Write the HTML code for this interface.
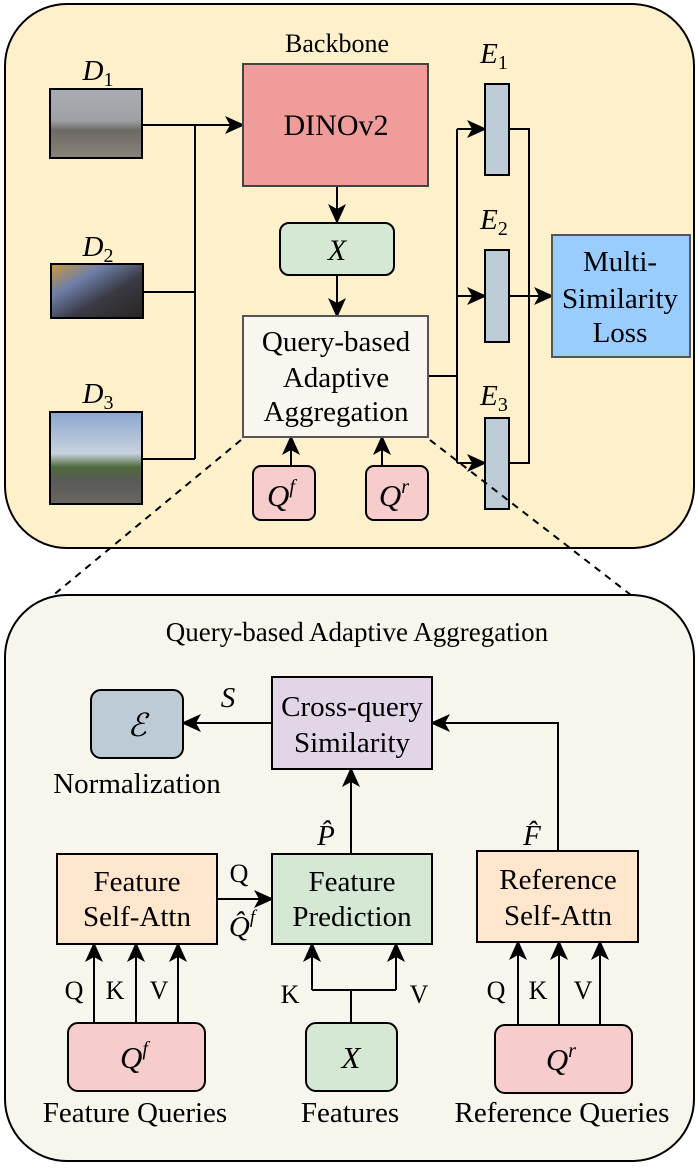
<!DOCTYPE html>
<html><head><meta charset="utf-8"><style>
html,body{margin:0;padding:0;background:#fff}
svg{display:block}
text{font-family:"Liberation Serif",serif;fill:#000}
.it{font-style:italic}
</style></head><body>
<svg width="698" height="1168" viewBox="0 0 698 1168" xmlns="http://www.w3.org/2000/svg">
<defs>
<marker id="a" markerWidth="20" markerHeight="18" refX="18" refY="9" orient="auto" markerUnits="userSpaceOnUse">
<path d="M0,0 L20,9 L0,18 L5,9 z" fill="#000"/></marker>
<linearGradient id="sky1" x1="0" y1="0" x2="0" y2="1"><stop offset="0" stop-color="#a9adb3"/><stop offset="0.45" stop-color="#9ea2a6"/><stop offset="0.6" stop-color="#6d6a66"/><stop offset="1" stop-color="#8a8378"/></linearGradient>
<linearGradient id="sky2" x1="0" y1="0" x2="1" y2="1"><stop offset="0" stop-color="#c99a3c"/><stop offset="0.3" stop-color="#6f7fa8"/><stop offset="0.6" stop-color="#3a3a44"/><stop offset="1" stop-color="#2a2520"/></linearGradient>
<linearGradient id="sky3" x1="0" y1="0" x2="0" y2="1"><stop offset="0" stop-color="#8aa7cf"/><stop offset="0.45" stop-color="#c8d2de"/><stop offset="0.6" stop-color="#4f6a3c"/><stop offset="0.75" stop-color="#5a5a5a"/><stop offset="1" stop-color="#6a6660"/></linearGradient>
</defs>

<rect x="5" y="4" width="689" height="544" rx="62" fill="#fdf0cb" stroke="#000" stroke-width="2"/>
<text x="337" y="52" font-size="26" text-anchor="middle">Backbone</text>

<text x="98" y="80" font-size="29" text-anchor="middle" class="it">D<tspan font-size="20" dy="6" font-style="normal">1</tspan></text>
<text x="98" y="256" font-size="29" text-anchor="middle" class="it">D<tspan font-size="20" dy="6" font-style="normal">2</tspan></text>
<text x="98" y="403" font-size="29" text-anchor="middle" class="it">D<tspan font-size="20" dy="6" font-style="normal">3</tspan></text>
<rect x="50" y="89" width="92" height="69" fill="url(#sky1)" stroke="#000" stroke-width="2"/>
<rect x="51" y="264" width="92" height="54" fill="url(#sky2)" stroke="#000" stroke-width="2"/>
<rect x="50" y="412" width="92" height="92" fill="url(#sky3)" stroke="#000" stroke-width="2"/>

<g stroke="#000" stroke-width="2" fill="none">
<line x1="142" y1="125" x2="243" y2="125" marker-end="url(#a)"/>
<line x1="143" y1="292" x2="195" y2="292"/>
<line x1="142" y1="459" x2="195" y2="459"/>
<line x1="195" y1="125" x2="195" y2="459"/>
<line x1="337" y1="186" x2="337" y2="222" marker-end="url(#a)"/>
<line x1="337" y1="275" x2="337" y2="316" marker-end="url(#a)"/>
<line x1="291" y1="466" x2="291" y2="437" marker-end="url(#a)"/>
<line x1="382" y1="466" x2="382" y2="437" marker-end="url(#a)"/>
<polyline points="428,376 457,376"/>
<line x1="457" y1="129" x2="457" y2="463"/>
<line x1="457" y1="129" x2="485" y2="129" marker-end="url(#a)"/>
<line x1="457" y1="296" x2="485" y2="296" marker-end="url(#a)"/>
<line x1="457" y1="463" x2="485" y2="463" marker-end="url(#a)"/>
<polyline points="509,129 529,129 529,463 509,463"/>
<line x1="509" y1="296" x2="552" y2="296" marker-end="url(#a)"/>
</g>

<rect x="243" y="64" width="185" height="122" fill="#f09c9a" stroke="#444" stroke-width="2"/>
<text x="336" y="135" font-size="30" text-anchor="middle">DINOv2</text>
<rect x="280" y="223" width="114" height="52" rx="9" fill="#d5e8d4" stroke="#000" stroke-width="2"/>
<text x="337" y="260" font-size="30" text-anchor="middle" class="it">X</text>
<rect x="243" y="316" width="185" height="121" fill="#f8f6ef" stroke="#555" stroke-width="2"/>
<text x="336" y="351" font-size="29" text-anchor="middle">Query-based</text>
<text x="336" y="387" font-size="29" text-anchor="middle">Adaptive</text>
<text x="336" y="421" font-size="29" text-anchor="middle">Aggregation</text>
<rect x="253" y="466" width="62" height="54" rx="8" fill="#f6cccc" stroke="#000" stroke-width="2"/>
<text x="281" y="506" font-size="31" text-anchor="middle" class="it">Q<tspan font-size="20" dy="-13">f</tspan></text>
<rect x="366" y="466" width="62" height="54" rx="8" fill="#f6cccc" stroke="#000" stroke-width="2"/>
<text x="394" y="506" font-size="31" text-anchor="middle" class="it">Q<tspan font-size="20" dy="-13">r</tspan></text>

<rect x="485" y="84" width="24" height="91" fill="#bccbd6" stroke="#000" stroke-width="2"/>
<rect x="485" y="250" width="24" height="92" fill="#bccbd6" stroke="#000" stroke-width="2"/>
<rect x="485" y="418" width="24" height="91" fill="#bccbd6" stroke="#000" stroke-width="2"/>
<text x="494" y="63" font-size="29" text-anchor="middle" class="it">E<tspan font-size="20" dy="6" font-style="normal">1</tspan></text>
<text x="494" y="229" font-size="29" text-anchor="middle" class="it">E<tspan font-size="20" dy="6" font-style="normal">2</tspan></text>
<text x="494" y="405" font-size="29" text-anchor="middle" class="it">E<tspan font-size="20" dy="6" font-style="normal">3</tspan></text>

<rect x="552" y="235" width="138" height="122" fill="#99ccff" stroke="#555" stroke-width="2"/>
<text x="620" y="271" font-size="29" text-anchor="middle">Multi-</text>
<text x="620" y="308" font-size="29" text-anchor="middle">Similarity</text>
<text x="620" y="342" font-size="29" text-anchor="middle">Loss</text>

<g stroke="#000" stroke-width="2" stroke-dasharray="7,6" fill="none">
<line x1="241" y1="440" x2="45" y2="602"/>
<line x1="430" y1="440" x2="640" y2="602"/>
</g>

<rect x="5" y="595" width="689" height="566" rx="62" fill="#f8f5ed" stroke="#000" stroke-width="2"/>
<text x="357" y="641" font-size="27" text-anchor="middle">Query-based Adaptive Aggregation</text>

<g stroke="#000" stroke-width="2" fill="none">
<line x1="272" y1="723" x2="183" y2="723" marker-end="url(#a)"/>
<polyline points="558,851 558,723 432,723" marker-end="url(#a)"/>
<line x1="351" y1="854" x2="351" y2="769" marker-end="url(#a)"/>
<line x1="217" y1="899" x2="272" y2="899" marker-end="url(#a)"/>
<line x1="94" y1="1023" x2="94" y2="944" marker-end="url(#a)"/>
<line x1="136" y1="1023" x2="136" y2="944" marker-end="url(#a)"/>
<line x1="178" y1="1023" x2="178" y2="944" marker-end="url(#a)"/>
<line x1="351" y1="1023" x2="351" y2="990"/>
<polyline points="312,990 396,990"/>
<line x1="312" y1="990" x2="312" y2="944" marker-end="url(#a)"/>
<line x1="396" y1="990" x2="396" y2="944" marker-end="url(#a)"/>
<line x1="518" y1="1025" x2="518" y2="942" marker-end="url(#a)"/>
<line x1="559" y1="1025" x2="559" y2="942" marker-end="url(#a)"/>
<line x1="600" y1="1025" x2="600" y2="942" marker-end="url(#a)"/>
</g>

<rect x="91" y="690" width="92" height="68" rx="10" fill="#bccbd6" stroke="#000" stroke-width="2"/>
<text x="137" y="736" font-size="32" text-anchor="middle" class="it">ℰ</text>
<text x="137" y="793" font-size="29" text-anchor="middle">Normalization</text>
<text x="228" y="707" font-size="29" text-anchor="middle" class="it">S</text>

<rect x="272" y="677" width="160" height="92" fill="#e1d5e7" stroke="#000" stroke-width="2"/>
<text x="352" y="716" font-size="29" text-anchor="middle">Cross-query</text>
<text x="352" y="752" font-size="29" text-anchor="middle">Similarity</text>

<text x="326" y="845" font-size="29" text-anchor="middle" class="it">P̂</text>
<text x="532" y="845" font-size="29" text-anchor="middle" class="it">F̂</text>

<rect x="57" y="854" width="160" height="90" fill="#ffe6cc" stroke="#000" stroke-width="2"/>
<text x="137" y="891" font-size="29" text-anchor="middle">Feature</text>
<text x="137" y="926" font-size="29" text-anchor="middle">Self-Attn</text>
<rect x="272" y="854" width="160" height="90" fill="#d5e8d4" stroke="#000" stroke-width="2"/>
<text x="352" y="891" font-size="29" text-anchor="middle">Feature</text>
<text x="352" y="926" font-size="29" text-anchor="middle">Prediction</text>
<rect x="477" y="851" width="161" height="91" fill="#ffe6cc" stroke="#000" stroke-width="2"/>
<text x="558" y="889" font-size="29" text-anchor="middle">Reference</text>
<text x="558" y="925" font-size="29" text-anchor="middle">Self-Attn</text>

<text x="239" y="882" font-size="26" text-anchor="middle">Q</text>
<text x="242" y="936" font-size="29" text-anchor="middle" class="it">Q̂<tspan font-size="19" dy="-13">f</tspan></text>

<g font-size="26" text-anchor="middle">
<text x="74" y="999">Q</text><text x="115" y="999">K</text><text x="159" y="999">V</text>
<text x="290" y="1003">K</text><text x="419" y="1003">V</text>
<text x="496" y="999">Q</text><text x="538" y="999">K</text><text x="583" y="999">V</text>
</g>

<rect x="68" y="1023" width="137" height="68" rx="10" fill="#f6cccc" stroke="#000" stroke-width="2"/>
<text x="134" y="1068" font-size="31" text-anchor="middle" class="it">Q<tspan font-size="20" dy="-13">f</tspan></text>
<rect x="306" y="1023" width="91" height="68" rx="10" fill="#d5e8d4" stroke="#000" stroke-width="2"/>
<text x="351" y="1068" font-size="31" text-anchor="middle" class="it">X</text>
<rect x="495" y="1025" width="137" height="68" rx="10" fill="#f6cccc" stroke="#000" stroke-width="2"/>
<text x="561" y="1070" font-size="31" text-anchor="middle" class="it">Q<tspan font-size="20" dy="-13">r</tspan></text>

<text x="135" y="1122" font-size="29" text-anchor="middle">Feature Queries</text>
<text x="350" y="1122" font-size="29" text-anchor="middle">Features</text>
<text x="562" y="1122" font-size="29" text-anchor="middle">Reference Queries</text>
</svg>
</body></html>
